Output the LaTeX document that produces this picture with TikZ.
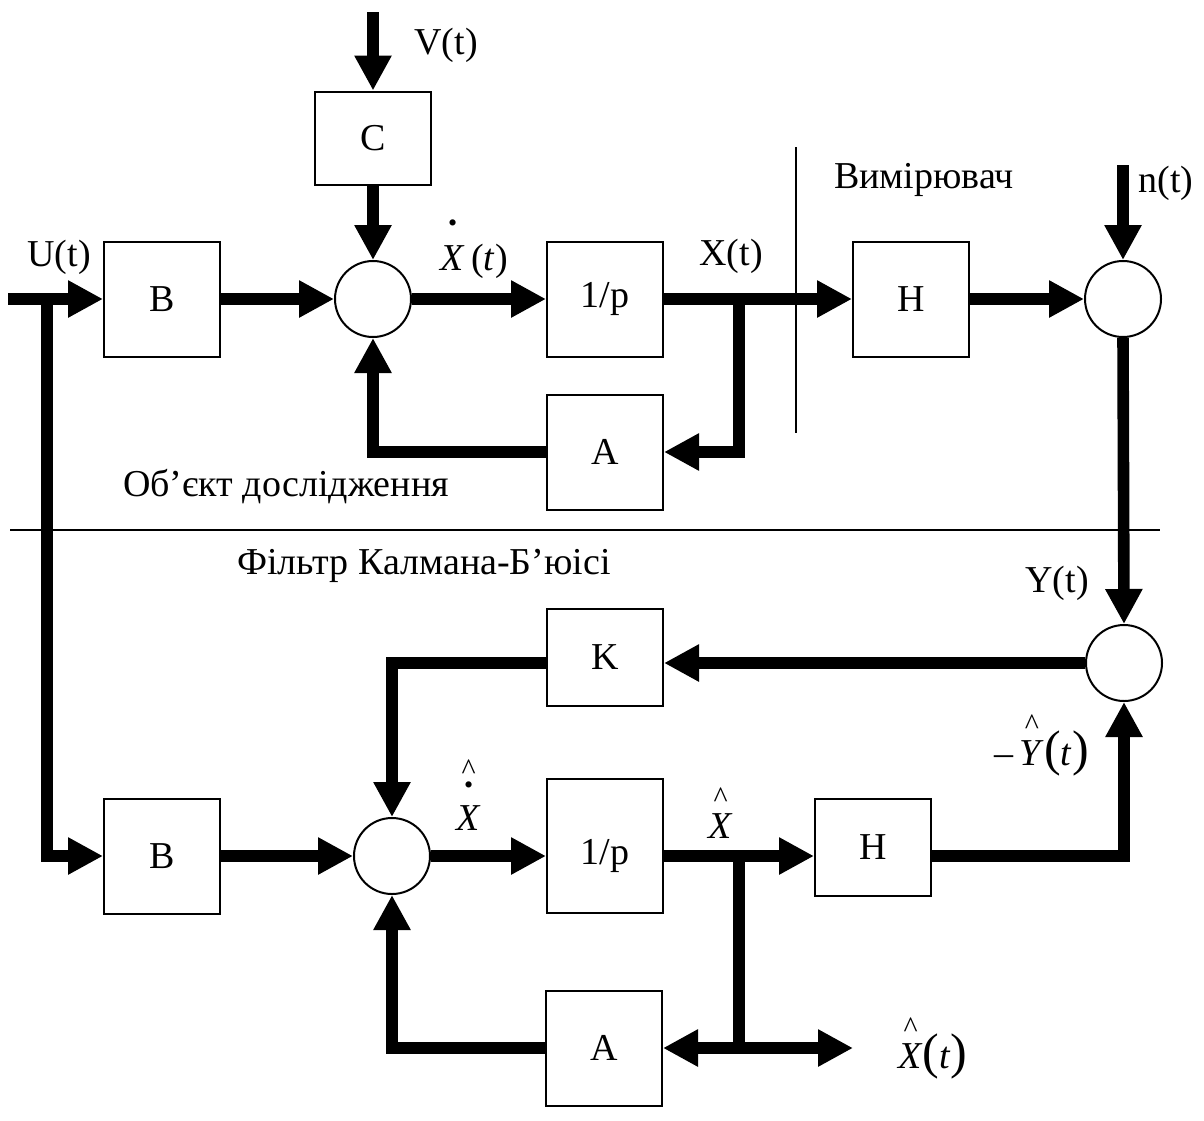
\documentclass[tikz,border=0pt]{standalone}
\usepackage{fontspec}
\setmainfont{Liberation Serif}
\usepackage{tikz}
\usetikzlibrary{arrows.meta, positioning, calc}

\newcommand{\dotmark}{{\fontsize{13}{13}\selectfont •}}
\newcommand{\hatmark}{{\fontsize{15}{15}\selectfont\textasciicircum}}
\newcommand{\bigpar}[1]{{\fontsize{25}{25}\selectfont(}#1{\fontsize{25}{25}\selectfont)}}

\begin{document}
\begin{tikzpicture}[x=0.5pt, y=-0.5pt,
    font=\fontsize{19}{22}\selectfont,
    block/.style={draw, line width=1pt, minimum width=58pt, minimum height=57.5pt, inner sep=0pt},
    sumnode/.style={circle, draw, line width=1pt, minimum size=38pt, inner sep=0pt},
    wire/.style={line width=5.8pt},
    flow/.style={wire, -{Triangle[length=17.5pt, width=17.5pt]}},
    divider/.style={line width=0.8pt},
    lbl/.style={inner sep=0pt}]
    \useasboundingbox (0,0) rectangle (1204,1120);

    \node[block] (B1) at (162,299) {B};
    \node[sumnode] (s1) at (373,299) {};
    \node[block, minimum height=46.5pt] (C) at (373,138) {C};
    \node[block] (P1) at (605,299) {1/p};
    \node[block] (A1) at (605,452) {A};
    \node[block] (H1) at (911,299) {H};
    \node[sumnode] (s2) at (1123,299) {};

    \node[sumnode] (s3) at (1124,663) {};
    \node[block, minimum height=48.5pt] (K) at (605,657) {K};
    \node[block] (B2) at (162,856) {B};
    \node[sumnode] (s4) at (392,856) {};
    \node[block, minimum height=67pt] (P2) at (605,846) {};
    \node[lbl] at (605,856) {1/p};
    \node[block, minimum height=48.5pt] (H2) at (873,847) {H};
    \node[block] (A2) at (604,1048) {A};

    \coordinate (uin) at (8,299);
    \coordinate (br0) at (47,299);
    \coordinate (vin) at (373,12);
    \coordinate (br1) at (739,299);
    \coordinate (nin) at (1123,165);
    \coordinate (br2) at (739,856);
    \coordinate (xout) at (853,1048);

    \draw[flow] (uin) -- (B1.west);
    \draw[flow] (br0) |- (B2.west);
    \draw[flow] (B1.east) -- (s1.west);
    \draw[flow] (vin) -- (C.north);
    \draw[flow] (C.south) -- (s1.north);
    \draw[flow] (s1.east) -- (P1.west);
    \draw[flow] (P1.east) -- (H1.west);
    \draw[flow] (br1) |- (A1.east);
    \draw[flow] (A1.west) -| (s1.south);
    \draw[flow] (H1.east) -- (s2.west);
    \draw[flow] (nin) -- (s2.north);
    \draw[flow] (s2.south) -- (s3.north);

    \draw[flow] (s3.west) -- (s3.west -| K.east);
    \draw[flow] (K.west |- s3.west) -| (s4.north);
    \draw[flow] (B2.east) -- (s4.west);
    \draw[flow] (s4.east) -- (s4.east -| P2.west);
    \draw[flow] (br2 -| P2.east) -- (br2 -| H2.west);
    \draw[flow] (br2 -| H2.east) -| (s3.south);
    \draw[wire] (br2) -- (br2 |- A2.east);
    \draw[flow] (br2 |- A2.east) -- (A2.east);
    \draw[flow] (br2 |- A2.east) -- (xout);
    \draw[flow] (A2.west) -| (s4.south);

    \draw[divider] (796,147) -- (796,433);
    \draw[divider] (10,530) -- (1160,530);

    \node[lbl] (ulbl) at (59,257) {U(t)};
    \node[lbl] (vlbl) at (446,45) {V(t)};
    \node[lbl, anchor=base west] (xdlbl) at (440,270) {\shortstack{\dotmark\\[4pt]\textit{X}}\,(\textit{t})};
    \node[lbl] (xlbl) at (731,256) {X(t)};
    \node[lbl] (meas) at (924,180) {Вимірювач};
    \node[lbl] (nlbl) at (1166,183) {n(t)};
    \node[lbl] (obj) at (286,487) {Об’єкт дослідження};
    \node[lbl] (kbf) at (424,566) {Фільтр Калмана-Б’юісі};
    \node[lbl] (ylbl) at (1057,583) {Y(t)};
    \node[lbl, anchor=base west] (yhlbl) at (994,765) {–\,\shortstack{\hatmark\\\textit{Y}}\bigpar{\textit{t}\/}};
    \node[lbl, anchor=base west] (xhdlbl) at (456,830) {\shortstack{\hatmark\\[-2pt]\dotmark\\[3pt]\textit{X}}};
    \node[lbl, anchor=base west] (xhlbl) at (708,838) {\shortstack{\hatmark\\\textit{X}}};
    \node[lbl, anchor=base west] (xhtlbl) at (898,1068) {\shortstack{\hatmark\\\textit{X}}\bigpar{\textit{t}\/}};
\end{tikzpicture}
\end{document}
